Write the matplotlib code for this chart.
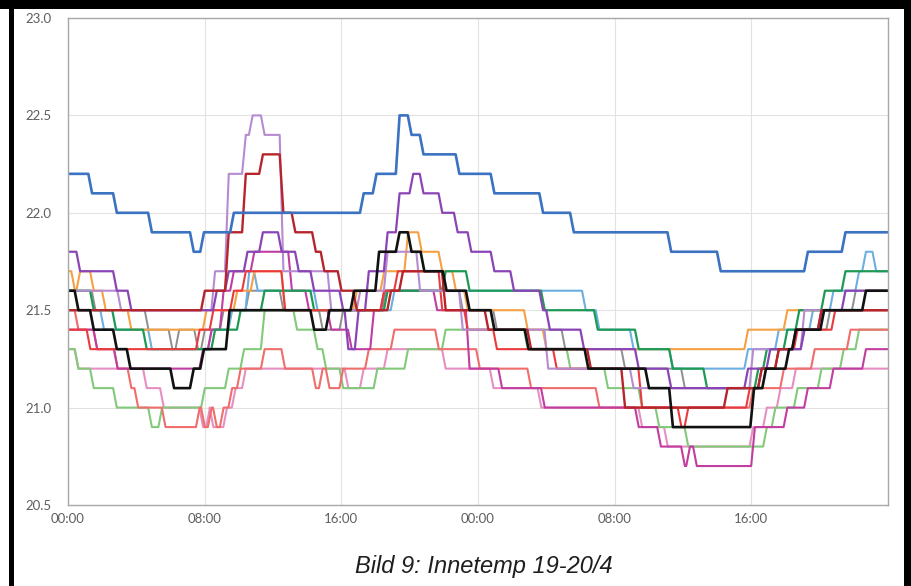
import matplotlib
matplotlib.use("Agg")
import matplotlib.pyplot as plt
from matplotlib.patches import Rectangle
import numpy as np

# ---- data: change-point times (hours from 19/4 00:00) and temperature levels ----
hours_end = 48
xtick_hours = [0, 8, 16, 24, 32, 40]
xtick_labels = ["00:00", "08:00", "16:00", "00:00", "08:00", "16:00"]
ytick_vals = [20.5, 21.0, 21.5, 22.0, 22.5, 23.0]

blue_t = [0, 1.3, 2.75, 4.8, 7.25, 7.85, 9.6, 17.2, 17.95, 19.3, 20.0, 20.7, 22.8, 24.85, 27.7, 29.5, 35.2, 38.1, 43.2, 45.4]
blue_v = [22.2, 22.1, 22.0, 21.9, 21.8, 21.9, 22.0, 22.1, 22.2, 22.5, 22.4, 22.3, 22.2, 22.1, 22.0, 21.9, 21.8, 21.7, 21.8, 21.9]

black_t = [0, 0.5, 1.4, 2.75, 3.55, 6.1, 7.25, 7.85, 9.35, 14.3, 15.2, 16.65, 18.1, 19.3, 20.0, 20.75, 22.05, 23.4, 24.85, 26.85, 30.35, 33.9, 35.3, 40.05, 40.75, 42.1, 42.5, 44.15, 46.6]
black_v = [21.6, 21.5, 21.4, 21.3, 21.2, 21.1, 21.2, 21.3, 21.5, 21.4, 21.5, 21.6, 21.8, 21.9, 21.8, 21.7, 21.6, 21.5, 21.4, 21.3, 21.2, 21.1, 20.9, 21.1, 21.2, 21.3, 21.4, 21.5, 21.6]

purple_t = [0, 0.6, 2.75, 3.6, 8.6, 9.3, 10.4, 11.3, 12.4, 13.4, 14.3, 16.0, 16.3, 16.9, 17.5, 18.6, 19.3, 20.1, 20.7, 21.8, 22.7, 23.5, 24.85, 26.0, 27.7, 28.1, 30.1, 33.3, 35.2, 39.7, 41.0, 43.0, 44.0, 45.4]
purple_v = [21.8, 21.7, 21.6, 21.5, 21.6, 21.7, 21.8, 21.9, 21.8, 21.7, 21.6, 21.5, 21.3, 21.5, 21.7, 21.9, 22.1, 22.2, 22.1, 22.0, 21.9, 21.8, 21.7, 21.6, 21.5, 21.4, 21.3, 21.2, 21.1, 21.2, 21.3, 21.4, 21.5, 21.6]

lavender_t = [0, 3.0, 8.5, 9.3, 10.3, 10.7, 11.4, 12.5, 15.3, 17.0, 18.6, 20.5, 23.0, 28.0, 33.0, 40.0, 43.0]
lavender_v = [21.6, 21.5, 21.7, 22.2, 22.4, 22.5, 22.4, 21.7, 21.5, 21.6, 21.8, 21.6, 21.4, 21.2, 21.1, 21.3, 21.5]

darkred_t = [0, 7.9, 9.3, 10.3, 11.3, 12.5, 13.2, 14.4, 14.9, 15.9, 16.8, 18.8, 19.5, 22.0, 24.5, 27.0, 30.5, 32.5, 38.5, 40.5, 41.5, 42.5, 44.0]
darkred_v = [21.5, 21.6, 21.9, 22.2, 22.3, 22.0, 21.9, 21.8, 21.7, 21.6, 21.5, 21.6, 21.7, 21.5, 21.4, 21.3, 21.2, 21.0, 21.1, 21.2, 21.3, 21.4, 21.5]

orange_t = [0, 0.3, 0.6, 1.4, 2.1, 3.6, 8.0, 9.8, 10.8, 12.6, 16.8, 18.4, 19.8, 20.6, 21.8, 22.6, 23.3, 26.8, 27.9, 39.7, 42.0]
orange_v = [21.7, 21.6, 21.7, 21.6, 21.5, 21.4, 21.5, 21.6, 21.7, 21.5, 21.6, 21.7, 21.9, 21.8, 21.7, 21.6, 21.5, 21.4, 21.3, 21.4, 21.5]

green_t = [0, 1.4, 2.7, 4.5, 8.5, 10.0, 11.4, 14.3, 18.6, 22.0, 23.4, 27.8, 30.9, 33.3, 35.3, 37.3, 40.3, 40.8, 42.0, 42.7, 44.2, 45.4]
green_v = [21.6, 21.5, 21.4, 21.3, 21.4, 21.5, 21.6, 21.5, 21.6, 21.7, 21.6, 21.5, 21.4, 21.3, 21.2, 21.1, 21.2, 21.3, 21.4, 21.5, 21.6, 21.7]

lightblue_t = [0, 2.0, 4.8, 8.3, 9.5, 10.5, 11.0, 14.5, 19.0, 27.8, 30.2, 31.0, 33.0, 35.3, 39.7, 41.5, 43.5, 44.7, 46.2, 46.6, 47.2]
lightblue_v = [21.5, 21.4, 21.3, 21.4, 21.5, 21.7, 21.6, 21.5, 21.6, 21.6, 21.5, 21.4, 21.3, 21.2, 21.3, 21.4, 21.5, 21.6, 21.7, 21.8, 21.7]

red_t = [0, 1.2, 7.6, 8.4, 9.6, 10.3, 12.6, 18.4, 19.2, 21.8, 23.3, 25.0, 28.5, 33.5, 35.8, 36.2, 39.8, 40.5, 41.5, 42.6, 44.8]
red_v = [21.4, 21.3, 21.4, 21.5, 21.6, 21.7, 21.5, 21.6, 21.7, 21.5, 21.4, 21.3, 21.2, 21.0, 20.9, 21.0, 21.1, 21.2, 21.3, 21.4, 21.5]

salmon_t = [0, 0.5, 1.6, 2.8, 3.6, 4.0, 5.6, 7.6, 7.9, 8.3, 8.6, 9.0, 9.5, 10.0, 11.4, 12.6, 14.4, 14.8, 15.2, 16.0, 17.5, 19.0, 21.6, 24.0, 27.0, 31.0, 40.0, 41.8, 43.6, 45.7]
salmon_v = [21.5, 21.4, 21.3, 21.2, 21.1, 21.0, 20.9, 21.0, 20.9, 21.0, 20.9, 21.0, 21.1, 21.2, 21.3, 21.2, 21.1, 21.2, 21.1, 21.2, 21.3, 21.4, 21.3, 21.2, 21.1, 21.0, 21.1, 21.2, 21.3, 21.4]

magenta_t = [0, 1.6, 2.8, 7.8, 8.3, 9.0, 9.6, 10.8, 13.0, 14.0, 15.3, 16.5, 17.8, 18.4, 21.5, 23.4, 25.3, 27.8, 33.3, 34.6, 36.0, 36.3, 36.7, 40.1, 42.0, 43.2, 44.7, 46.6]
magenta_v = [21.4, 21.3, 21.2, 21.3, 21.4, 21.6, 21.7, 21.8, 21.6, 21.5, 21.4, 21.3, 21.5, 21.6, 21.5, 21.2, 21.1, 21.0, 20.9, 20.8, 20.7, 20.8, 20.7, 20.9, 21.0, 21.1, 21.2, 21.3]

lightgreen_t = [0, 0.5, 1.4, 2.75, 4.8, 5.4, 7.9, 9.3, 10.2, 11.4, 13.3, 14.5, 15.0, 16.0, 18.0, 19.8, 22.0, 26.8, 29.3, 31.5, 33.5, 34.5, 36.2, 40.8, 41.3, 42.6, 44.0, 45.3, 46.2]
lightgreen_v = [21.3, 21.2, 21.1, 21.0, 20.9, 21.0, 21.1, 21.2, 21.3, 21.5, 21.4, 21.3, 21.2, 21.1, 21.2, 21.3, 21.4, 21.3, 21.2, 21.1, 21.0, 20.9, 20.8, 20.9, 21.0, 21.1, 21.2, 21.3, 21.4]

pink_t = [0, 0.5, 4.5, 5.5, 7.8, 8.2, 8.4, 9.2, 9.7, 10.3, 16.3, 17.2, 18.6, 22.0, 24.8, 27.6, 33.5, 35.0, 40.0, 40.8, 41.6, 42.5]
pink_v = [21.3, 21.2, 21.1, 21.0, 20.9, 21.0, 20.9, 21.0, 21.1, 21.2, 21.1, 21.2, 21.3, 21.2, 21.1, 21.0, 20.9, 20.8, 20.9, 21.0, 21.1, 21.2]

gray_t = [0, 1.5, 4.6, 6.0, 6.4, 7.5, 7.9, 9.0, 10.5, 12.5, 14.8, 16.0, 18.5, 23.0, 25.0, 29.0, 32.5, 36.0, 40.5, 41.5, 43.0, 44.5, 46.0]
gray_v = [21.6, 21.5, 21.4, 21.3, 21.4, 21.3, 21.4, 21.5, 21.6, 21.5, 21.4, 21.5, 21.6, 21.5, 21.4, 21.3, 21.2, 21.1, 21.2, 21.3, 21.4, 21.5, 21.6]

series = [
    (gray_t, gray_v, "#8e8e8e", 1.4),
    (pink_t, pink_v, "#e68fc2", 1.5),
    (lightgreen_t, lightgreen_v, "#82c97a", 1.5),
    (salmon_t, salmon_v, "#ef6e6b", 1.5),
    (lightblue_t, lightblue_v, "#6cafe0", 1.5),
    (magenta_t, magenta_v, "#c13da0", 1.5),
    (orange_t, orange_v, "#f5a143", 1.5),
    (green_t, green_v, "#1e9a55", 1.6),
    (red_t, red_v, "#eb3a3e", 1.5),
    (lavender_t, lavender_v, "#b68bd0", 1.5),
    (purple_t, purple_v, "#8a44b6", 1.6),
    (darkred_t, darkred_v, "#b5252b", 1.7),
    (black_t, black_v, "#111111", 1.9),
    (blue_t, blue_v, "#3b72c1", 1.9),
]


def ramp_steps(t, v, end, w=0.22):
    xs, ys = [t[0]], [v[0]]
    for i in range(1, len(t)):
        xs += [t[i] - w / 2, t[i] + w / 2]
        ys += [v[i - 1], v[i]]
    xs.append(end)
    ys.append(v[-1])
    return xs, ys


fig = plt.figure(figsize=(9.11, 5.86), dpi=100)
ax = fig.add_axes([68 / 911, 1 - 505 / 586, (888 - 68) / 911, (505 - 18) / 586])

for t, v, c, lw in series:
    xs, ys = ramp_steps(t, v, hours_end)
    ax.plot(xs, ys, color=c, lw=lw, solid_joinstyle="round", solid_capstyle="butt")

ax.set_xlim(0, hours_end)
ax.set_ylim(20.5, 23.0)
ax.set_xticks(xtick_hours)
ax.set_xticklabels(xtick_labels)
ax.set_yticks(ytick_vals)
ax.set_yticklabels([f"{y:.1f}" for y in ytick_vals])
ax.grid(True, color="#e2e2e2", lw=0.8)
ax.set_axisbelow(True)
for s in ax.spines.values():
    s.set_color("#a8a8a8")
    s.set_linewidth(1.0)
ax.tick_params(axis="both", length=0, labelcolor="#5e5e5e", labelsize=9.5)
ax.tick_params(axis="y", pad=12)
ax.tick_params(axis="x", pad=6)
for lab in ax.get_xticklabels() + ax.get_yticklabels():
    lab.set_family("Lato")

fig.text(484 / 911, 1 - 567 / 586, "Bild 9: Innetemp 19-20/4", ha="center", va="center",
         fontsize=17, style="italic", family="Liberation Sans", color="#1e1e1e")

# black frame of the screenshot
fig.add_artist(Rectangle((0, 1 - 9 / 586), 1, 9 / 586, transform=fig.transFigure, color="black", lw=0))
fig.add_artist(Rectangle((9 / 911, 0), 5 / 911, 1, transform=fig.transFigure, color="black", lw=0))
fig.add_artist(Rectangle((904 / 911, 0), 7 / 911, 1, transform=fig.transFigure, color="black", lw=0))

fig.savefig("out.png", dpi=100)
